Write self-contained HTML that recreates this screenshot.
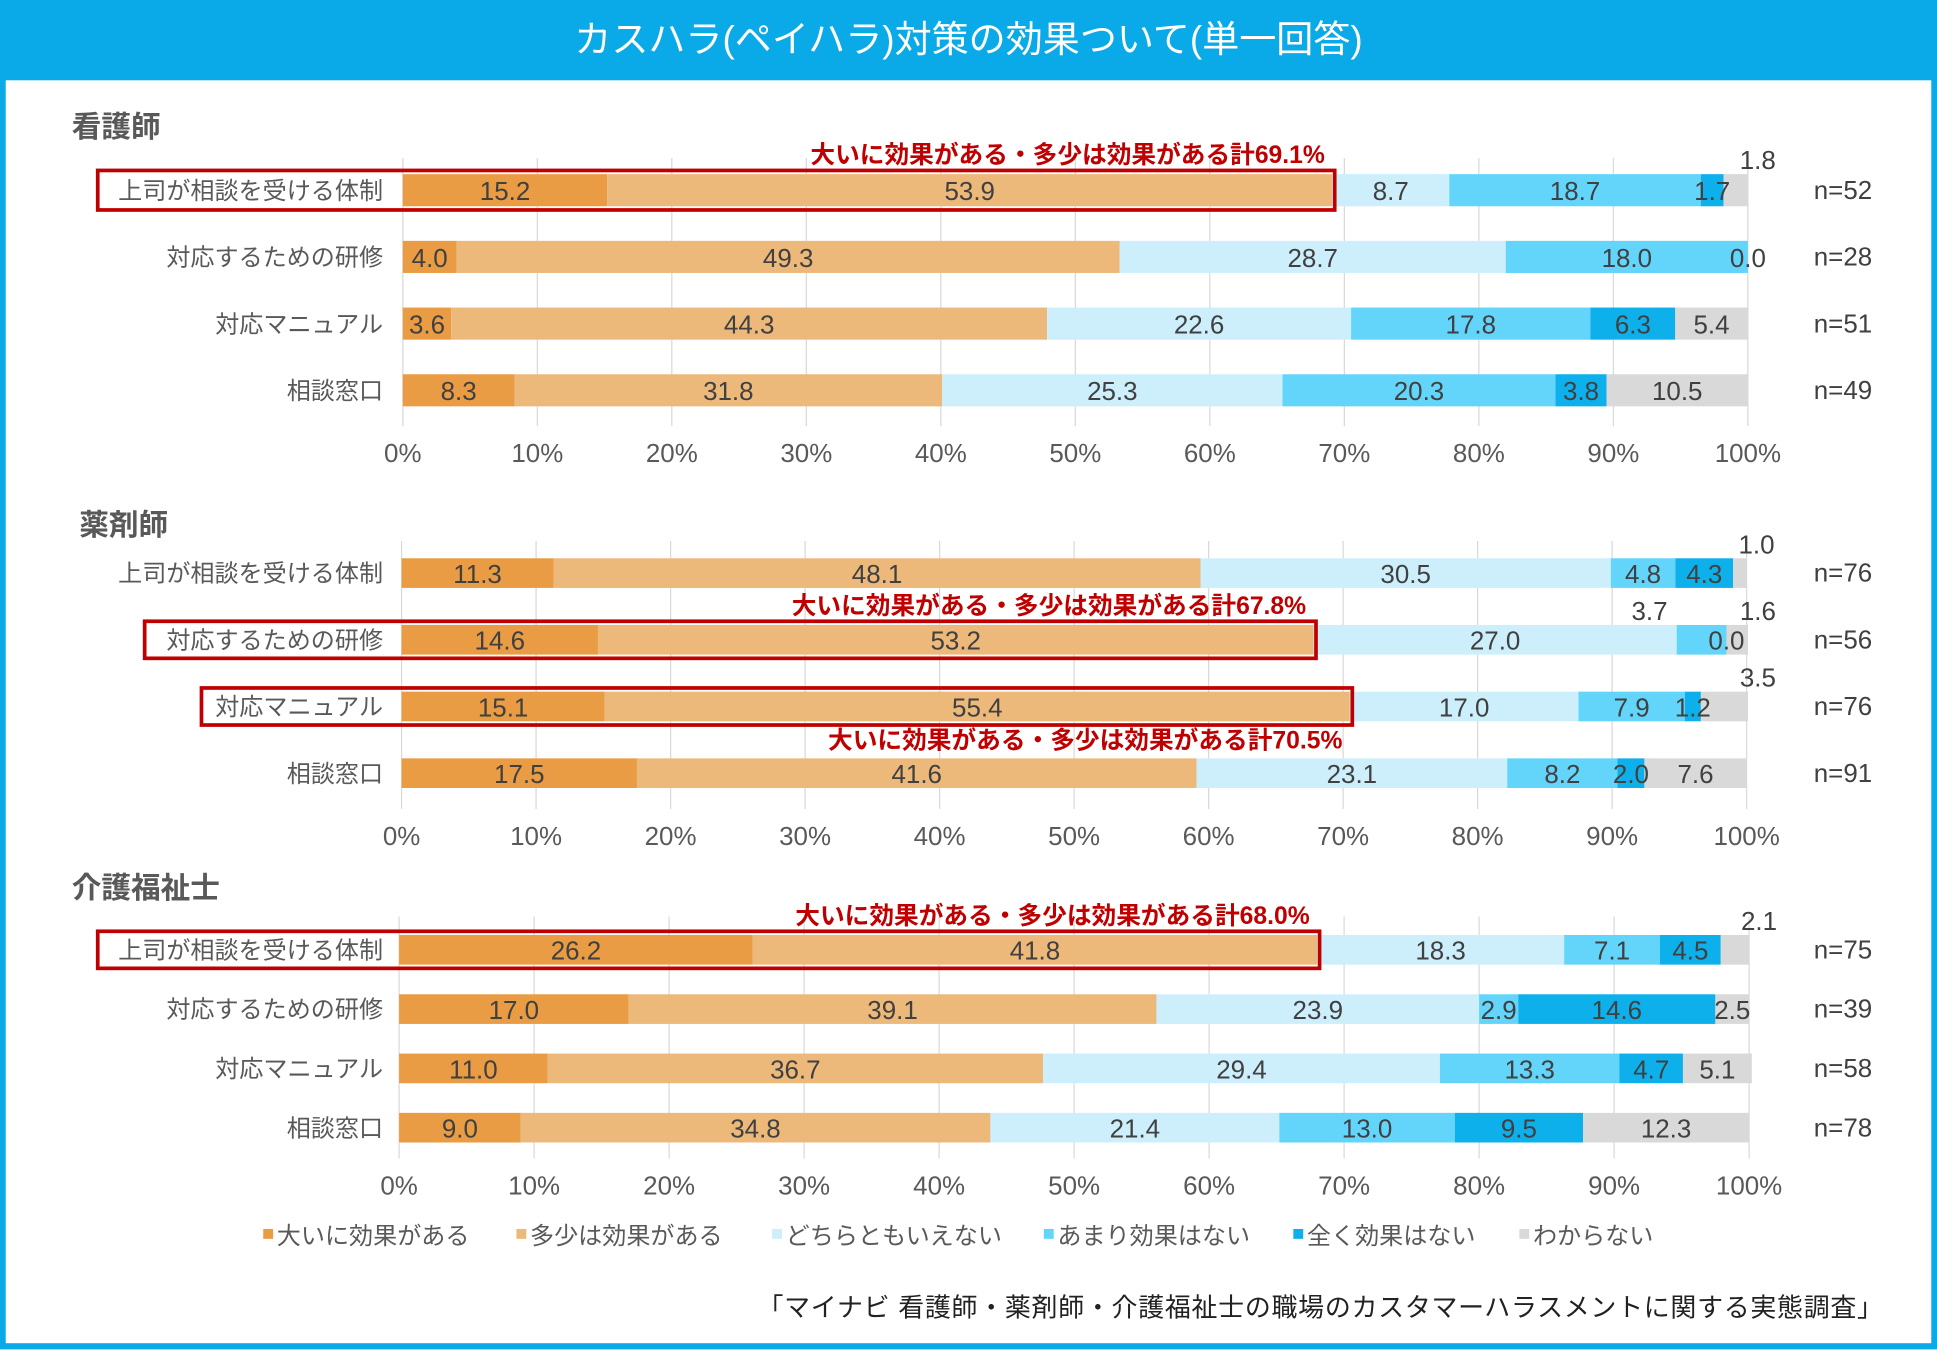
<!DOCTYPE html>
<html><head><meta charset="utf-8"><style>
html,body{margin:0;padding:0;background:#fff}
svg{display:block;font-family:"Liberation Sans","Noto Sans CJK JP",sans-serif}
</style></head><body>
<svg id="chart" width="1937" height="1350" viewBox="0 0 1568 1093" xmlns="http://www.w3.org/2000/svg">
<rect x="2" y="2" width="1564" height="1088" fill="#fff" stroke="#0aa9e8" stroke-width="5"/>
<rect x="0" y="0" width="1568" height="65" fill="#0aa9e8"/>
<text x="784" y="42" font-size="30" fill="#fff" text-anchor="middle">カスハラ(ペイハラ)対策の効果ついて(単一回答)</text>
<g id="panels"></g>
<g id="legend"></g>
<text x="1525" y="1066" font-size="21" fill="#222" text-anchor="end" letter-spacing="0.6">「マイナビ 看護師・薬剤師・介護福祉士の職場のカスタマーハラスメントに関する実態調査」</text>
</svg>
<script>
const categories = ["上司が相談を受ける体制","対応するための研修","対応マニュアル","相談窓口"];
const seriesNames = ["大いに効果がある","多少は効果がある","どちらともいえない","あまり効果はない","全く効果はない","わからない"];
const groupNames = ["看護師","薬剤師","介護福祉士"];
const nurseValues = [[15.2,53.9,8.7,18.7,1.7,1.8],[4.0,49.3,28.7,18.0,0.0,0.0],[3.6,44.3,22.6,17.8,6.3,5.4],[8.3,31.8,25.3,20.3,3.8,10.5]];
const pharmValues = [[11.3,48.1,30.5,4.8,4.3,1.0],[14.6,53.2,27.0,3.7,0.0,1.6],[15.1,55.4,17.0,7.9,1.2,3.5],[17.5,41.6,23.1,8.2,2.0,7.6]];
const careValues = [[26.2,41.8,18.3,7.1,4.5,2.1],[17.0,39.1,23.9,2.9,14.6,2.5],[11.0,36.7,29.4,13.3,4.7,5.1],[9.0,34.8,21.4,13.0,9.5,12.3]];
const nurseN = ["n=52","n=28","n=51","n=49"];
const pharmN = ["n=76","n=56","n=76","n=91"];
const careN = ["n=75","n=39","n=58","n=78"];
const tickLabels = ["0%","10%","20%","30%","40%","50%","60%","70%","80%","90%","100%"];
const highlightTotals = [[0,0,"69.1%"],[1,1,"67.8%"],[1,2,"70.5%"],[2,0,"68.0%"]];
// callouts: [group,row,segment] labels placed above the bar
const callouts = [[0,0,5],[1,0,5],[1,1,3],[1,1,5],[1,2,5],[2,0,5]];

const colors = ["#e99c43","#ecb97b","#cdeffc","#63d5fb","#0eb0ec","#d9d9d9"];
const layout = [
  {x0:326,x1:1415,title:102,rows:[154,208,262,316],bh:26,gtop:128,gbot:345,tick:374},
  {x0:325,x1:1414,title:424,rows:[464,518,572,626],bh:24,gtop:438,gbot:655,tick:684},
  {x0:323,x1:1416,title:718,rows:[769,817,865,913],bh:24,gtop:742,gbot:938,tick:967}
];
const boxLeft = {"0-0":79,"1-1":117,"1-2":163,"2-0":79};
const textBelow = {"1-2":true};
const allValues=[nurseValues,pharmValues,careValues];
const allN=[nurseN,pharmN,careN];
const NS="http://www.w3.org/2000/svg";
const root=document.getElementById('panels');
function mk(tag,attrs,parent,txt){const e=document.createElementNS(NS,tag);for(const k in attrs)e.setAttribute(k,attrs[k]);if(txt!==undefined)e.textContent=txt;parent.appendChild(e);return e;}

groupNames.forEach((gname,g)=>{
  const L=layout[g];
  const xs=v=>L.x0+(L.x1-L.x0)*v/100;
  const grp=mk('g',{},root);
  
  
  const t=mk('text',{x:g==1?64:58,y:L.title+9,'font-size':24,'font-weight':'bold',fill:'#595959'},grp,gname);
  
  
  tickLabels.forEach((lab,i)=>{
    const x=xs(i*10);
    const gl=mk('line',{x1:x,x2:x,y1:L.gtop,y2:L.gbot,stroke:'#d9d9d9','stroke-width':1},grp);
    
    
    const tl=mk('text',{x:x,y:L.tick,'font-size':21,fill:'#595959','text-anchor':'middle'},grp,lab);
    
    
  });
  categories.forEach((cat,r)=>{
    const cy=L.rows[r];
    const vals=allValues[g][r];
    const cl=mk('text',{x:310,y:cy+7,'font-size':19.5,fill:'#595959','text-anchor':'end'},grp,cat);
    
    
    let acc=0;
    vals.forEach((v,s)=>{
      const xa=xs(acc), xb=xs(acc+v);
      const rc=mk('rect',{x:xa,y:cy-L.bh/2,width:Math.max(0,xb-xa),height:L.bh,fill:colors[s]},grp);
      
      
      acc+=v;
    });
    acc=0;
    vals.forEach((v,s)=>{
      const xa=xs(acc), xb=xs(acc+v);
      const isCall=callouts.some(c=>c[0]==g&&c[1]==r&&c[2]==s);
      if(!(v==0&&s==5)){
        let lx=(xa+xb)/2, ly=cy+8;
        if(isCall){ly=cy-L.bh/2-4; if(s==5){lx=xb+8;} else {lx=xa-22;}}
        const vl=mk('text',{x:lx,y:ly,'font-size':21,fill:'#404040','text-anchor':'middle'},grp,v.toFixed(1));
        
        
      }
      acc+=v;
    });
    const nl=mk('text',{x:1492,y:cy+7,'font-size':21,fill:'#404040','text-anchor':'middle'},grp,allN[g][r]);
    
    
  });
  highlightTotals.filter(h=>h[0]==g).forEach(h=>{
    const r=h[1], cy=L.rows[r], key=g+'-'+r;
    const tot=allValues[g][r][0]+allValues[g][r][1];
    const xr=xs(tot)+2;
    const bx=mk('rect',{x:boxLeft[key],y:cy-L.bh/2-3,width:xr-boxLeft[key],height:L.bh+6,fill:'none',stroke:'#c00000','stroke-width':3},grp);
    
    
    const ty=textBelow[key]?cy+L.bh/2+22:cy-L.bh/2-9;
    const at=mk('text',{x:xr-8,y:ty,'font-size':20,'font-weight':'bold',fill:'#c00000','text-anchor':'end'},grp,'大いに効果がある・多少は効果がある計'+h[2]);
    
    
  });
});
const lg=document.getElementById('legend');
const legX=[213,418,625,845,1047,1230];
seriesNames.forEach((n,i)=>{
  const sq=mk('rect',{x:legX[i],y:995,width:8,height:8,fill:colors[i]},lg);
  
  
  const lt=mk('text',{x:legX[i]+11,y:1007,'font-size':19.5,fill:'#595959'},lg,n);
  
  
});
</script>
</body></html>
